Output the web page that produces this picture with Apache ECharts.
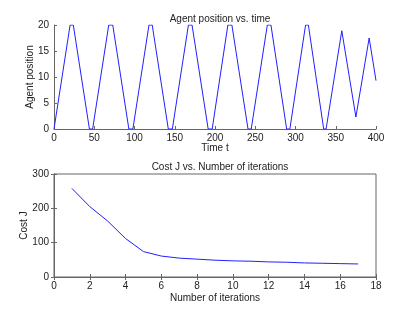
<!DOCTYPE html>
<html>
<head>
<meta charset="utf-8">
<script src="https://cdn.jsdelivr.net/npm/echarts@6/dist/echarts.min.js"></script>
<style>html,body{margin:0;padding:0;background:#fff}#c{width:415px;height:313px}</style>
</head>
<body>
<div id="c"></div>
<script>
// Top plot: agent position vs time
const posTime = [0,20,24,44,48,68,73,93,98,118,122,142,147,167,171.5,191.5,196.5,216,221,241,245,265,269.5,289,293,312.5,316,335,338,357.5,375,391.5,400];
const posValue = [0,20,20,0,0,20,20,0,0,20,20,0,0,20,20,0,0,20,20,0,0,20,20,0,0,20,20,0,0,18.9,2.3,17.5,9.3];
// Bottom plot: cost vs iterations
const iterations = [1,2,3,4,5,6,7,8,9,10,11,12,13,14,15,16,17];
const costJ = [258,205,163,112,74,61,55,52,49,47,46,44,43,41,40,39,38];

const FONT = 'Liberation Sans';
const TXT = '#222';
const AX = '#666';

function mkAxis(o) {
  return Object.assign({
    type: 'value',
    axisLine: {show: true, lineStyle: {color: AX, width: 1}},
    axisTick: {show: true, inside: true, length: 3, lineStyle: {color: AX}},
    splitLine: {show: false},
    axisLabel: {color: TXT, fontFamily: FONT, fontSize: 10},
    nameTextStyle: {color: TXT, fontFamily: FONT, fontSize: 10},
    nameLocation: 'middle',
    nameMoveOverlap: false
  }, o);
}

const chart = echarts.init(document.getElementById('c'), null, {renderer: 'canvas'});
chart.setOption({
  animation: false,
  backgroundColor: '#fff',
  title: [
    {text: 'Agent position vs. time', left: 215, top: 9, textAlign: 'center',
     textStyle: {color: TXT, fontFamily: FONT, fontSize: 10, fontWeight: 'normal'}},
    {text: 'Cost J vs. Number of iterations', left: 215, top: 157, textAlign: 'center',
     textStyle: {color: TXT, fontFamily: FONT, fontSize: 10, fontWeight: 'normal'}}
  ],
  grid: [
    {left: 54, right: 39, top: 25, height: 104},
    {left: 54, right: 39, top: 174, height: 103, show: true, borderColor: AX, borderWidth: 1, backgroundColor: 'transparent'}
  ],
  xAxis: [
    mkAxis({gridIndex: 0, min: 0, max: 400, interval: 50, name: 'Time t', nameGap: 14,
            axisLabel: {color: TXT, fontFamily: FONT, fontSize: 10, margin: 4}}),
    mkAxis({gridIndex: 1, min: 0, max: 18, interval: 2, name: 'Number of iterations', nameGap: 16,
            axisLabel: {color: TXT, fontFamily: FONT, fontSize: 10, margin: 4}}),
    mkAxis({gridIndex: 1, min: 0, max: 18, interval: 2, position: 'top', axisLabel: {show: false}})
  ],
  yAxis: [
    mkAxis({gridIndex: 0, min: 0, max: 20, interval: 5, name: 'Agent position', nameGap: 19,
            axisLabel: {color: TXT, fontFamily: FONT, fontSize: 10, margin: 5}}),
    mkAxis({gridIndex: 1, min: 0, max: 300, interval: 100, name: 'Cost J', nameGap: 25,
            axisLabel: {color: TXT, fontFamily: FONT, fontSize: 10, margin: 5}}),
    mkAxis({gridIndex: 1, min: 0, max: 300, interval: 100, position: 'right', axisLabel: {show: false}})
  ],
  series: [
    {type: 'line', xAxisIndex: 0, yAxisIndex: 0, showSymbol: false, symbol: 'none',
     lineStyle: {color: '#2020ff', width: 1},
     data: posTime.map((t, i) => [t, posValue[i]])},
    {type: 'line', xAxisIndex: 1, yAxisIndex: 1, showSymbol: false, symbol: 'none',
     lineStyle: {color: '#2020ff', width: 1},
     data: iterations.map((t, i) => [t, costJ[i]])}
  ]
});
</script>
</body>
</html>
